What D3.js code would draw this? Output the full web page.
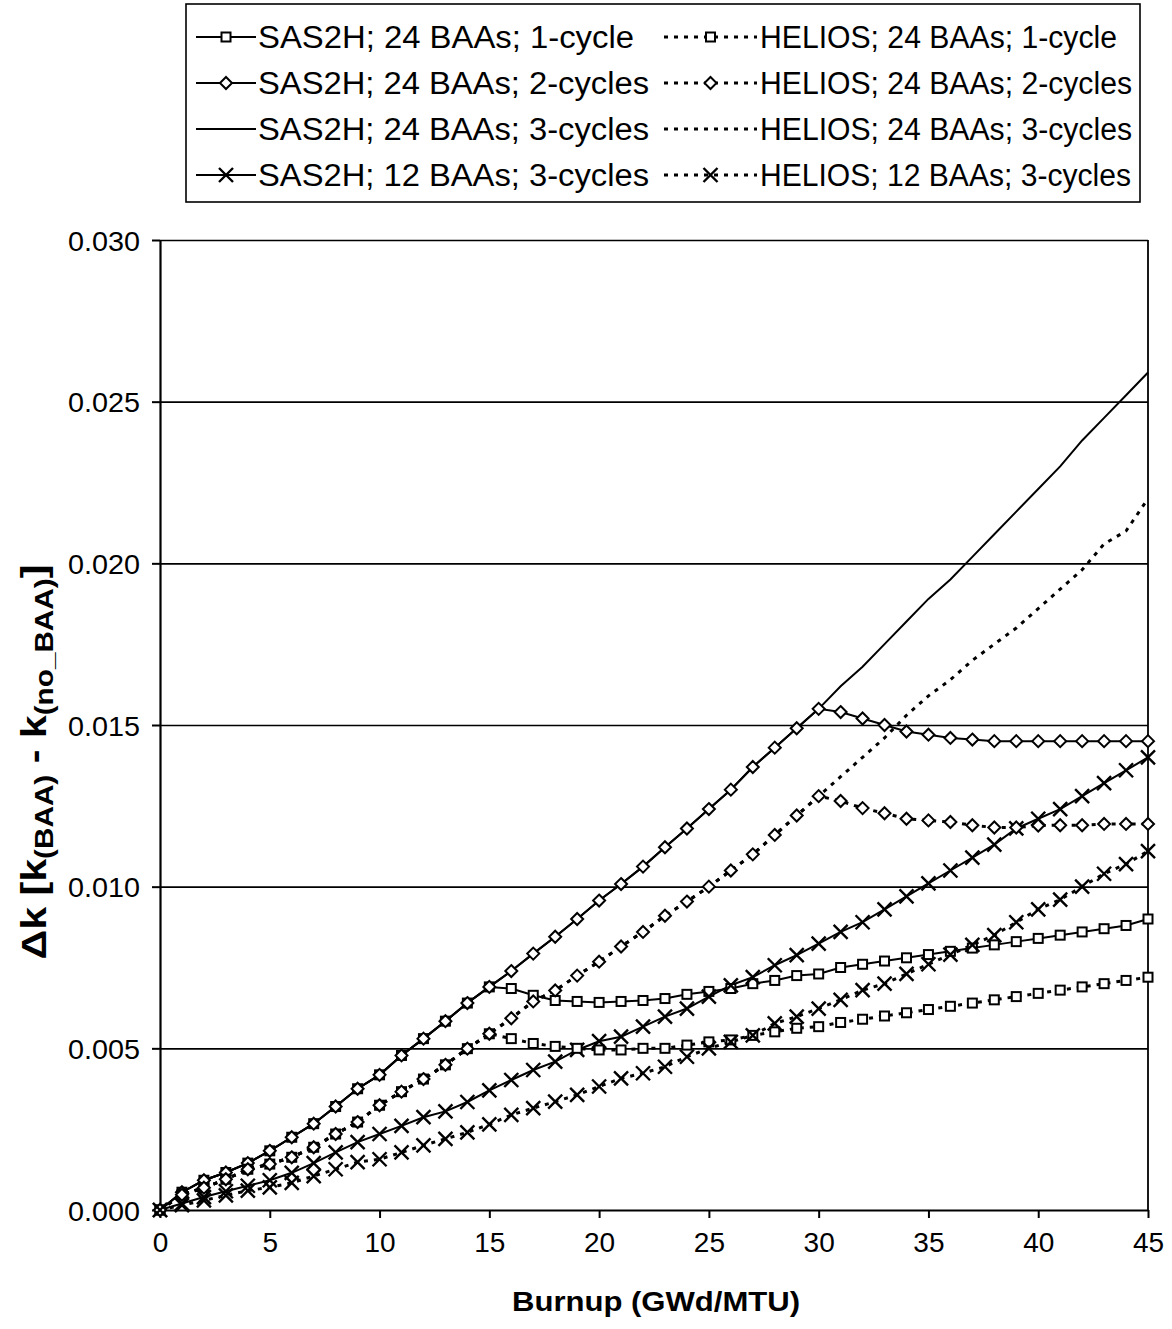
<!DOCTYPE html>
<html>
<head>
<meta charset="utf-8">
<script src="https://cdn.jsdelivr.net/npm/d3@7"></script>
<style>
  body { margin: 0; background: #fff; }
  svg { display: block; }
  text { font-family: "Liberation Sans", Arial, Helvetica, sans-serif; fill: #000; }
</style>
</head>
<body>
<svg id="chart" width="1172" height="1329"></svg>
<script>
// Burnup steps (GWd/MTU)
const burnup = [0, 1, 2, 3, 4, 5, 6, 7, 8, 9, 10, 11, 12, 13, 14, 15, 16, 17, 18, 19, 20, 21, 22,
  23, 24, 25, 26, 27, 28, 29, 30, 31, 32, 33, 34, 35, 36, 37, 38, 39, 40, 41, 42, 43, 44, 45];

// Delta-k values, SAS2H
const sas24Cycle1 = [0, 0.00055, 0.00092, 0.00116, 0.00145, 0.00183, 0.00225, 0.00267, 0.0032, 0.00375,
  0.00418, 0.00478, 0.0053, 0.00584, 0.0064, 0.0069, 0.00685, 0.00664, 0.00648, 0.00645,
  0.00642, 0.00645, 0.00648, 0.00654, 0.00667, 0.00676, 0.00685, 0.007, 0.0071, 0.00725,
  0.0073, 0.0075, 0.0076, 0.0077, 0.0078, 0.0079, 0.008, 0.0081, 0.0082, 0.0083,
  0.0084, 0.0085, 0.0086, 0.0087, 0.0088, 0.009];
const sas24Cycle2 = [0, 0.00055, 0.00092, 0.00116, 0.00145, 0.00183, 0.00225, 0.00267, 0.0032, 0.00375,
  0.00418, 0.00478, 0.0053, 0.00584, 0.0064, 0.0069, 0.00739, 0.00793, 0.00845, 0.009,
  0.00957, 0.01008, 0.01062, 0.01122, 0.0118, 0.0124, 0.013, 0.0137, 0.0143, 0.0149,
  0.0155, 0.0154, 0.0152, 0.015, 0.0148, 0.0147, 0.0146, 0.01455, 0.0145, 0.0145,
  0.0145, 0.0145, 0.0145, 0.0145, 0.0145, 0.0145];
const sas24Cycle3 = [0, 0.00055, 0.00092, 0.00116, 0.00145, 0.00183, 0.00225, 0.00267, 0.0032, 0.00375,
  0.00418, 0.00478, 0.0053, 0.00584, 0.0064, 0.0069, 0.00739, 0.00793, 0.00845, 0.009,
  0.00957, 0.01008, 0.01062, 0.01122, 0.0118, 0.0124, 0.013, 0.0137, 0.0143, 0.0149,
  0.0155, 0.0162, 0.0168, 0.0175, 0.0182, 0.0189, 0.0195, 0.0202, 0.0209, 0.0216,
  0.0223, 0.023, 0.0238, 0.0245, 0.0252, 0.0259];
const sas12Cycle3 = [0, 0.0002, 0.0004, 0.00058, 0.00075, 0.00092, 0.00115, 0.00145, 0.00178, 0.0021,
  0.00235, 0.0026, 0.00287, 0.00305, 0.00334, 0.0037, 0.00402, 0.00433, 0.00459, 0.00495,
  0.00522, 0.00536, 0.00567, 0.00598, 0.00623, 0.0066, 0.00695, 0.0072, 0.00757, 0.00788,
  0.00824, 0.0086, 0.0089, 0.0093, 0.0097, 0.0101, 0.0105, 0.0109, 0.0113, 0.0118,
  0.0121, 0.0124, 0.0128, 0.0132, 0.0136, 0.014];

// Delta-k values, HELIOS
const hel24Cycle1 = [0, 0.00047, 0.00069, 0.00095, 0.00126, 0.00142, 0.00163, 0.00194, 0.00235, 0.00272,
  0.00324, 0.00366, 0.00405, 0.00449, 0.00499, 0.00545, 0.0053, 0.00515, 0.00506, 0.005,
  0.00495, 0.00495, 0.005, 0.005, 0.0051, 0.0052, 0.00526, 0.0054, 0.00551, 0.00562,
  0.00567, 0.0058, 0.0059, 0.006, 0.0061, 0.0062, 0.0063, 0.0064, 0.0065, 0.0066,
  0.0067, 0.0068, 0.0069, 0.007, 0.0071, 0.0072];
const hel24Cycle2 = [0, 0.00047, 0.00069, 0.00095, 0.00126, 0.00142, 0.00163, 0.00194, 0.00235, 0.00272,
  0.00324, 0.00366, 0.00405, 0.00449, 0.00499, 0.00545, 0.00593, 0.00645, 0.00679, 0.00725,
  0.00768, 0.00815, 0.0086, 0.0091, 0.00954, 0.01, 0.0105, 0.011, 0.0116, 0.0122,
  0.0128, 0.01265, 0.01243, 0.01227, 0.0121, 0.01205, 0.012, 0.0119, 0.01183, 0.01183,
  0.01189, 0.0119, 0.0119, 0.01194, 0.01194, 0.01194];
const hel24Cycle3 = [0, 0.00047, 0.00069, 0.00095, 0.00126, 0.00142, 0.00163, 0.00194, 0.00235, 0.00272,
  0.00324, 0.00366, 0.00405, 0.00449, 0.00499, 0.00545, 0.00593, 0.00645, 0.00679, 0.00725,
  0.00768, 0.00815, 0.0086, 0.0091, 0.00954, 0.01, 0.0105, 0.011, 0.0116, 0.0122,
  0.0128, 0.0134, 0.014, 0.0146, 0.0153, 0.0159, 0.0164, 0.017, 0.0175, 0.018,
  0.0186, 0.0192, 0.0198, 0.0206, 0.021, 0.022];
const hel12Cycle3 = [0, 0.00015, 0.0003, 0.00045, 0.0006, 0.0007, 0.00084, 0.00105, 0.00126, 0.00148,
  0.00157, 0.00178, 0.002, 0.0022, 0.0024, 0.00265, 0.00294, 0.00315, 0.00335, 0.00356,
  0.00382, 0.00407, 0.00423, 0.00443, 0.00474, 0.005, 0.0052, 0.0054, 0.00577, 0.00598,
  0.00623, 0.0065, 0.0068, 0.007, 0.0073, 0.0076, 0.0079, 0.0082, 0.0085, 0.0089,
  0.0093, 0.0096, 0.01, 0.0104, 0.0107, 0.0111];

const sasLabels = ["SAS2H; 24 BAAs; 1-cycle", "SAS2H; 24 BAAs; 2-cycles",
  "SAS2H; 24 BAAs; 3-cycles", "SAS2H; 12 BAAs; 3-cycles"];
const heliosLabels = ["HELIOS; 24 BAAs; 1-cycle", "HELIOS; 24 BAAs; 2-cycles",
  "HELIOS; 24 BAAs; 3-cycles", "HELIOS; 12 BAAs; 3-cycles"];

const yTickValues = [0, 0.005, 0.01, 0.015, 0.02, 0.025, 0.03];
const xTickValues = [0, 5, 10, 15, 20, 25, 30, 35, 40, 45];

const xTitle = "Burnup (GWd/MTU)";

// ---- series set-up: marker per row, dotted for HELIOS ----
const markerKinds = ["square", "diamond", "none", "cross"];
const sasSeries = [sas24Cycle1, sas24Cycle2, sas24Cycle3, sas12Cycle3];
const heliosSeries = [hel24Cycle1, hel24Cycle2, hel24Cycle3, hel12Cycle3];

const series = [];
sasSeries.forEach((v, i) => series.push({ label: sasLabels[i], values: v, dotted: false, marker: markerKinds[i] }));
heliosSeries.forEach((v, i) => series.push({ label: heliosLabels[i], values: v, dotted: true, marker: markerKinds[i] }));

// ---- geometry ----
const plot = { left: 160, right: 1148, top: 240, bottom: 1210 };
const svg = d3.select("#chart");

const x = d3.scaleLinear().domain([0, 45]).range([plot.left, plot.right]);
const y = d3.scaleLinear().domain([0, 0.03]).range([plot.bottom, plot.top]);

// horizontal gridlines
svg.append("g")
  .attr("transform", `translate(${plot.left},0)`)
  .call(d3.axisLeft(y).tickValues(yTickValues.filter(d => d > 0))
    .tickSize(-(plot.right - plot.left)).tickFormat(""))
  .call(g => g.select(".domain").remove())
  .call(g => g.selectAll("line").attr("stroke", "#000").attr("stroke-width", 1.6));

// right border
svg.append("line")
  .attr("x1", plot.right).attr("x2", plot.right)
  .attr("y1", plot.top).attr("y2", plot.bottom)
  .attr("stroke", "#000").attr("stroke-width", 1.8);

// y axis
const yAxis = svg.append("g")
  .attr("transform", `translate(${plot.left},0)`)
  .call(d3.axisLeft(y).tickValues(yTickValues).tickFormat(d3.format(".3f"))
    .tickSize(8).tickSizeOuter(0).tickPadding(12));
yAxis.select(".domain").attr("stroke", "#000").attr("stroke-width", 2.2);
yAxis.selectAll(".tick line").attr("stroke", "#000").attr("stroke-width", 2);
yAxis.selectAll(".tick text")
  .style("font-family", '"Liberation Sans", Arial, sans-serif')
  .style("font-size", "28px").attr("fill", "#000").attr("dy", "0.36em")
  .attr("textLength", 72).attr("lengthAdjust", "spacingAndGlyphs");

// x axis
const xAxis = svg.append("g")
  .attr("transform", `translate(0,${plot.bottom})`)
  .call(d3.axisBottom(x).tickValues(xTickValues).tickFormat(d3.format("d"))
    .tickSize(8).tickSizeOuter(0).tickPadding(14));
xAxis.select(".domain").attr("stroke", "#000").attr("stroke-width", 2.2);
xAxis.selectAll(".tick line").attr("stroke", "#000").attr("stroke-width", 2);
xAxis.selectAll(".tick text")
  .style("font-family", '"Liberation Sans", Arial, sans-serif')
  .style("font-size", "28px").attr("fill", "#000");

// axis titles
svg.append("text")
  .attr("x", 656).attr("y", 1311)
  .attr("text-anchor", "middle")
  .attr("textLength", 288).attr("lengthAdjust", "spacingAndGlyphs")
  .style("font-size", "28px").style("font-weight", "bold")
  .text(xTitle);

const yTitleG = svg.append("g").attr("transform", "translate(46,762) rotate(-90)");
const yTitle = yTitleG.append("text")
  .attr("text-anchor", "middle")
  .style("font-size", "36px").style("font-weight", "bold");
yTitle.append("tspan").text("\u0394k [k");
yTitle.append("tspan").attr("dy", 7).style("font-size", "26px").text("(BAA)");
yTitle.append("tspan").attr("dy", -7).text(" - k");
yTitle.append("tspan").attr("dy", 7).style("font-size", "26px").text("(no_BAA)");
yTitle.append("tspan").attr("dy", -7).text("]");
// stretch the title along its run so it spans the same length as the axis label block
const titleLen = yTitle.node().getComputedTextLength();
yTitle.attr("transform", `scale(${395 / titleLen},1)`);

// ---- markers ----
function drawMarker(g, kind, cx, cy) {
  if (kind === "square") {
    g.append("rect").attr("x", cx - 4.5).attr("y", cy - 4.5).attr("width", 9).attr("height", 9)
      .attr("fill", "#fff").attr("stroke", "#000").attr("stroke-width", 2);
  } else if (kind === "diamond") {
    g.append("path").attr("d", `M${cx},${cy - 6}L${cx + 6},${cy}L${cx},${cy + 6}L${cx - 6},${cy}Z`)
      .attr("fill", "#fff").attr("stroke", "#000").attr("stroke-width", 2);
  } else if (kind === "cross") {
    g.append("path").attr("d", `M${cx - 7},${cy - 7}L${cx + 7},${cy + 7}M${cx - 7},${cy + 7}L${cx + 7},${cy - 7}`)
      .attr("fill", "none").attr("stroke", "#000").attr("stroke-width", 2.4);
  }
}

const line = d3.line().x((d, i) => x(burnup[i])).y(d => y(d));

const linesG = svg.append("g");
series.forEach(s => {
  linesG.append("path")
    .datum(s.values)
    .attr("d", line)
    .attr("fill", "none")
    .attr("stroke", "#000")
    .attr("stroke-width", s.dotted ? 3 : 2)
    .attr("stroke-dasharray", s.dotted ? "4,6" : null);
});

const markG = svg.append("g");
series.forEach(s => {
  if (s.marker === "none") return;
  s.values.forEach((v, i) => drawMarker(markG, s.marker, x(burnup[i]), y(v)));
});

// ---- legend ----
const legend = svg.append("g");
legend.append("rect")
  .attr("x", 186).attr("y", 4).attr("width", 954).attr("height", 198)
  .attr("fill", "#fff").attr("stroke", "#000").attr("stroke-width", 1.6);

const rowY = d3.scalePoint().domain(d3.range(4)).range([37, 175]);
const columns = [
  { items: series.slice(0, 4), x0: 196, x1: 256, textX: 258, widths: [376, 391, 391, 391] },
  { items: series.slice(4, 8), x0: 664, x1: 757, textX: 760, widths: [357, 372, 372, 371] }
];
columns.forEach(col => {
  col.items.forEach((s, r) => {
    const cy = rowY(r);
    legend.append("line")
      .attr("x1", col.x0).attr("x2", col.x1).attr("y1", cy).attr("y2", cy)
      .attr("stroke", "#000").attr("stroke-width", s.dotted ? 3 : 2)
      .attr("stroke-dasharray", s.dotted ? "4,6" : null);
    drawMarker(legend, s.marker, (col.x0 + col.x1) / 2, cy);
    legend.append("text")
      .attr("x", col.textX).attr("y", cy + 11)
      .attr("textLength", col.widths[r]).attr("lengthAdjust", "spacingAndGlyphs")
      .style("font-size", "31px")
      .text(s.label);
  });
});
</script>
</body>
</html>
